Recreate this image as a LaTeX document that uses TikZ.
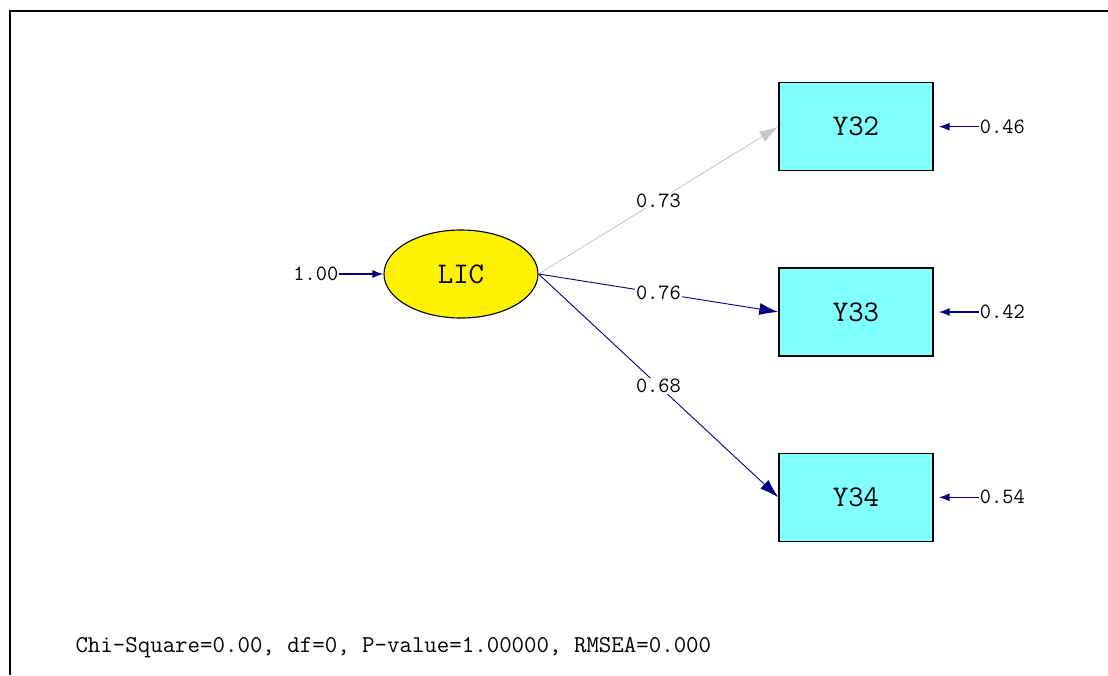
\documentclass[tikz,border=0pt]{standalone}
\usepackage{fontspec}
\usetikzlibrary{shapes.geometric, positioning, arrows.meta}
\definecolor{pathblue}{RGB}{0,0,128}
\definecolor{boxcyan}{RGB}{128,255,255}
\definecolor{greypath}{RGB}{200,200,200}

\begin{document}
\begin{tikzpicture}[
  x=1pt, y=-1pt,
  node distance=96pt and 45pt,
  latent/.style={draw, line width=1.1pt, ellipse, fill=yellow, minimum width=154pt, minimum height=88pt, inner sep=0pt, font=\ttfamily\fontsize{30}{34}\selectfont},
  observed/.style={draw, line width=1.3pt, fill=boxcyan, minimum width=154pt, minimum height=88pt, font=\ttfamily\fontsize{30}{34}\selectfont},
  coef/.style={fill=white, inner sep=1pt, font=\ttfamily\fontsize{21.8}{25}\selectfont},
  load/.style={draw=pathblue, line width=0.9pt, -{Latex[length=19pt,width=12pt]}},
  errpath/.style={draw=pathblue, line width=1.5pt, -{Latex[length=11pt,width=8pt]}, shorten >=5pt}
]
\useasboundingbox (0,0) rectangle (1108,675);

% frame
\draw[line width=2pt] (10,675) -- (10,11) -- (1108,11);

\node[latent] (lic) at (461,274) {LIC};
\node[observed] (y33) at (856,312) {Y33};
\node[observed,above=of y33] (y32) {Y32};
\node[observed,below=of y33] (y34) {Y34};

\node[coef,left=44pt of lic] (vlic) {1.00};
\node[coef,right=of y32] (e32) {0.46};
\node[coef,right=of y33] (e33) {0.42};
\node[coef,right=of y34] (e34) {0.54};

\draw[-{Latex[length=11pt,width=8pt]}, draw=pathblue, line width=1.5pt] (vlic) -- (lic);
\path (e32.west) edge[errpath] (y32.east)
(e33.west) edge[errpath] (y33.east)
(e34.west) edge[errpath] (y34.east);

\path (lic.east) edge[load, draw=greypath] node[coef] {0.73} (y32.west)
(lic.east) edge[load] node[coef] {0.76} (y33.west)
(lic.east) edge[load] node[coef] {0.68} (y34.west);

\node[anchor=west, font=\ttfamily\fontsize{24.2}{28}\selectfont] (fit) at (72,648) {Chi-Square=0.00, df=0, P-value=1.00000, RMSEA=0.000};

\end{tikzpicture}
\end{document}
